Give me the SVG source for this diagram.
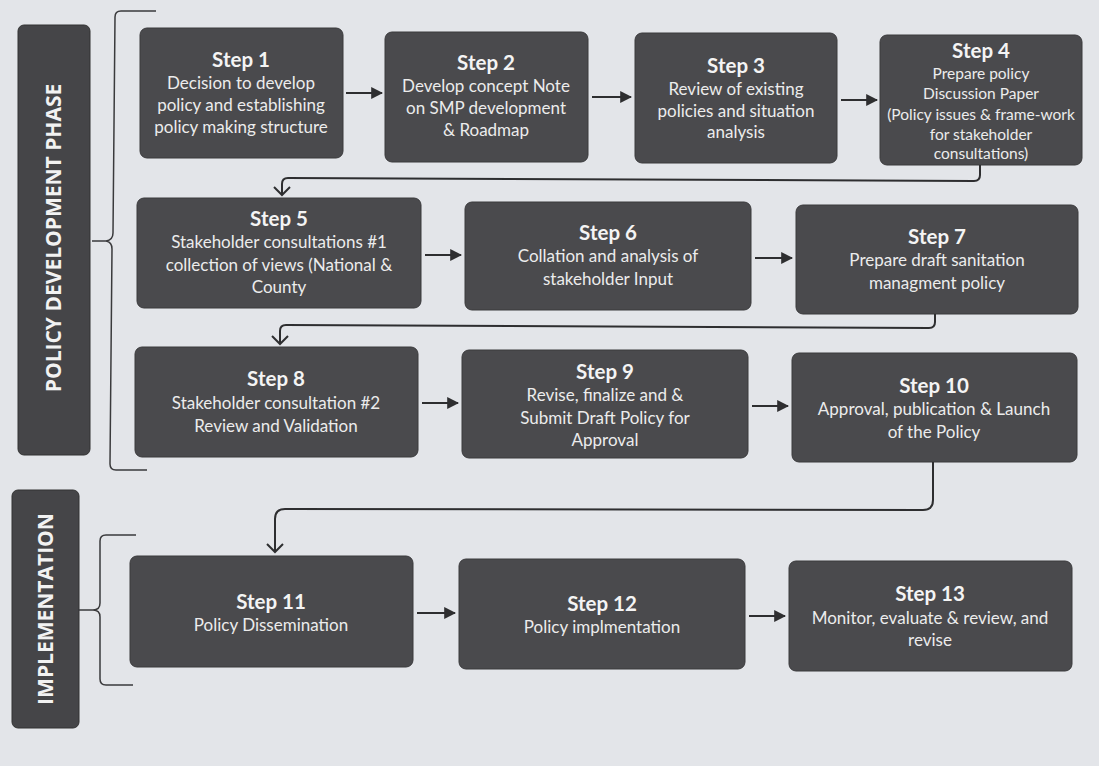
<svg xmlns="http://www.w3.org/2000/svg" width="1099" height="766" viewBox="0 0 1099 766">
<defs>
<marker id="tri" viewBox="0 0 10 10" refX="9" refY="5" markerWidth="12" markerHeight="12" markerUnits="userSpaceOnUse" orient="auto">
<path d="M0,0 L10,5 L0,10 Z" fill="#2e2e30"/>
</marker>
</defs>
<style>
.box{fill:#4a4a4d;stroke:#3a3a3c;stroke-width:1}
.side{fill:#454548;stroke:#333;stroke-width:1}
.t{font-family:Lato,"Open Sans","Liberation Sans",sans-serif;fill:#ececec;text-anchor:middle}
.h{font-size:20.5px;font-weight:bold;fill:#f4f4f4}
.b{font-size:17px}
.s{font-size:15.5px}
.lab{font-family:"Open Sans","Liberation Sans",sans-serif;font-weight:bold;font-size:21px;fill:#f2f2f2;text-anchor:middle}
.c{fill:none;stroke:#2e2e30;stroke-width:2}
.br{fill:none;stroke:#3a3a3c;stroke-width:1.5}
</style>
<rect width="1099" height="766" fill="#e3e5e9"/>

<g id="phase-policy">
<rect class="side" x="18" y="25" width="72" height="430" rx="6"/>
<text class="lab" transform="translate(61,238) rotate(-90)">POLICY DEVELOPMENT PHASE</text>
<path class="br" d="M156,11 L121,11 Q115,11 115,17 L113,233 Q113,240 106,241 L92,241 M106,241 Q112,242 112,249 L110,464 Q110,470 116,470 L147,470"/>
</g>
<g id="phase-impl">
<rect class="side" x="12" y="490" width="67" height="238" rx="6"/>
<text class="lab" transform="translate(53,609) rotate(-90)">IMPLEMENTATION</text>
<path class="br" d="M136,535 L106,535 Q100,535 100,541 L100,603 Q100,610 93,610 L78,610 M93,610 Q100,610 100,617 L100,679 Q100,685 106,685 L133,685"/>
</g>

<g id="step1">
<rect class="box" x="140" y="28" width="203" height="130" rx="7"/>
<text class="t h" x="241" y="67">Step 1</text>
<text class="t b" x="241" y="89">Decision to develop</text>
<text class="t b" x="241" y="111">policy and establishing</text>
<text class="t b" x="241" y="133">policy making structure</text>
</g>
<g id="step2">
<rect class="box" x="385" y="32" width="203" height="130" rx="7"/>
<text class="t h" x="486" y="70">Step 2</text>
<text class="t b" x="486" y="92">Develop concept Note</text>
<text class="t b" x="486" y="114">on SMP development</text>
<text class="t b" x="486" y="136">&amp; Roadmap</text>
</g>
<g id="step3">
<rect class="box" x="635" y="33" width="202" height="130" rx="7"/>
<text class="t h" x="736" y="73">Step 3</text>
<text class="t b" x="736" y="95">Review of existing</text>
<text class="t b" x="736" y="117">policies and situation</text>
<text class="t b" x="736" y="138">analysis</text>
</g>
<g id="step4">
<rect class="box" x="880" y="35" width="202" height="130" rx="7"/>
<text class="t h" x="981" y="58">Step 4</text>
<text class="t s" x="981" y="79">Prepare policy</text>
<text class="t s" x="981" y="99">Discussion Paper</text>
<text class="t s" x="981" y="120">(Policy issues &amp; frame-work</text>
<text class="t s" x="981" y="140">for stakeholder</text>
<text class="t s" x="981" y="159">consultations)</text>
</g>

<g id="step5">
<rect class="box" x="137" y="198" width="284" height="110" rx="7"/>
<text class="t h" x="279" y="226">Step 5</text>
<text class="t b" x="279" y="248">Stakeholder consultations #1</text>
<text class="t b" x="279" y="271">collection of views (National &amp;</text>
<text class="t b" x="279" y="293">County</text>
</g>
<g id="step6">
<rect class="box" x="465" y="202" width="286" height="108" rx="7"/>
<text class="t h" x="608" y="240">Step 6</text>
<text class="t b" x="608" y="262">Collation and analysis of</text>
<text class="t b" x="608" y="285">stakeholder Input</text>
</g>
<g id="step7">
<rect class="box" x="796" y="205" width="282" height="109" rx="7"/>
<text class="t h" x="937" y="244">Step 7</text>
<text class="t b" x="937" y="266">Prepare draft sanitation</text>
<text class="t b" x="937" y="289">managment policy</text>
</g>

<g id="step8">
<rect class="box" x="135" y="347" width="283" height="110" rx="7"/>
<text class="t h" x="276" y="386">Step 8</text>
<text class="t b" x="276" y="409">Stakeholder consultation #2</text>
<text class="t b" x="276" y="432">Review and Validation</text>
</g>
<g id="step9">
<rect class="box" x="462" y="350" width="286" height="108" rx="7"/>
<text class="t h" x="605" y="379">Step 9</text>
<text class="t b" x="605" y="401">Revise, finalize and &amp;</text>
<text class="t b" x="605" y="424">Submit Draft Policy for</text>
<text class="t b" x="605" y="446">Approval</text>
</g>
<g id="step10">
<rect class="box" x="792" y="353" width="285" height="109" rx="7"/>
<text class="t h" x="934" y="393">Step 10</text>
<text class="t b" x="934" y="415">Approval, publication &amp; Launch</text>
<text class="t b" x="934" y="438">of the Policy</text>
</g>

<g id="step11">
<rect class="box" x="130" y="556" width="283" height="111" rx="7"/>
<text class="t h" x="271" y="609">Step 11</text>
<text class="t b" x="271" y="631">Policy Dissemination</text>
</g>
<g id="step12">
<rect class="box" x="459" y="559" width="286" height="110" rx="7"/>
<text class="t h" x="602" y="611">Step 12</text>
<text class="t b" x="602" y="633">Policy implmentation</text>
</g>
<g id="step13">
<rect class="box" x="789" y="561" width="283" height="110" rx="7"/>
<text class="t h" x="930" y="601">Step 13</text>
<text class="t b" x="930" y="624">Monitor, evaluate &amp; review, and</text>
<text class="t b" x="930" y="646">revise</text>
</g>

<g id="connectors">
<line class="c" x1="346" y1="93" x2="382" y2="93" marker-end="url(#tri)"/>
<line class="c" x1="592" y1="97" x2="631" y2="97" marker-end="url(#tri)"/>
<line class="c" x1="841" y1="100" x2="877" y2="100" marker-end="url(#tri)"/>
<line class="c" x1="425" y1="255" x2="461" y2="255" marker-end="url(#tri)"/>
<line class="c" x1="755" y1="258" x2="792" y2="258" marker-end="url(#tri)"/>
<line class="c" x1="422" y1="403" x2="458" y2="403" marker-end="url(#tri)"/>
<line class="c" x1="752" y1="406" x2="788" y2="406" marker-end="url(#tri)"/>
<line class="c" x1="417" y1="613" x2="455" y2="613" marker-end="url(#tri)"/>
<line class="c" x1="749" y1="616" x2="785" y2="616" marker-end="url(#tri)"/>
<path class="c" d="M980,165 L980,175 Q980,181 974,181 L288,178 Q282,178 282,184 L282,195"/>
<path class="c" d="M274,187 L282,195 L290,187"/>
<path class="c" d="M935,314 L935,322 Q935,328 929,328 L286,325 Q280,325 280,331 L280,344"/>
<path class="c" d="M272,336 L280,344 L288,336"/>
<path class="c" d="M933,462 L933,500 Q933,510 923,510 L285,509 Q275,509 275,519 L275,552"/>
<path class="c" d="M267,544 L275,552 L283,544"/>
</g>
</svg>
